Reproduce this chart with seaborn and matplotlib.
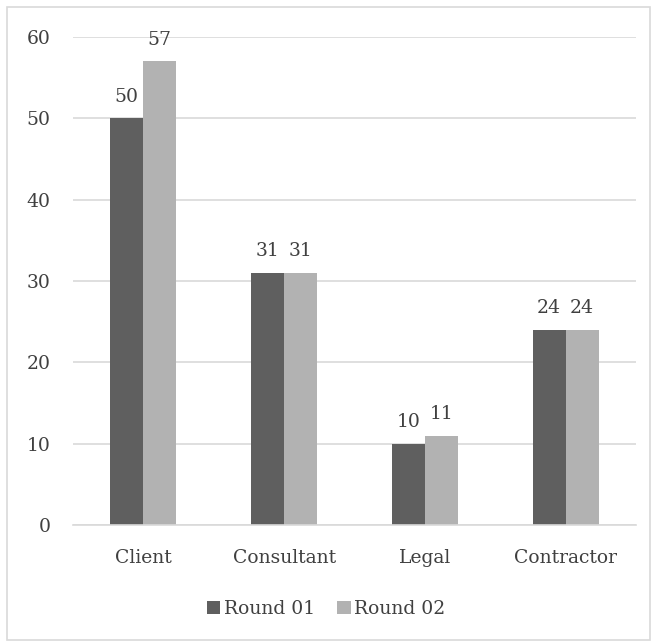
import pandas as pd
import matplotlib
matplotlib.use("Agg")
import matplotlib.pyplot as plt
import seaborn as sns
from matplotlib.patches import Rectangle

# Data
categories = ["Client", "Consultant", "Legal", "Contractor"]
round_01 = [50, 31, 10, 24]
round_02 = [57, 31, 11, 24]
series_names = ["Round 01", "Round 02"]
colors = ["#5f5f5f", "#b2b2b2"]

df = pd.DataFrame({
    "Category": categories * 2,
    "Value": round_01 + round_02,
    "Series": [series_names[0]] * 4 + [series_names[1]] * 4,
})

sns.set_style("white")
plt.rcParams["font.family"] = ["DejaVu Serif"]

fig = plt.figure(figsize=(6.57, 6.43), dpi=100)
ax = fig.add_axes([0.111, 0.1835, 0.857, 0.759])

sns.barplot(data=df, x="Category", y="Value", hue="Series", palette=colors,
            width=0.47, saturation=1, linewidth=0, ax=ax, legend=True)

ax.set_ylim(0, 60)
ax.set_xlim(-0.5, 3.5)
ax.set_yticks(range(0, 61, 10))
ax.yaxis.grid(True, color="#d9d9d9", linewidth=1.2)
ax.set_axisbelow(True)
for s in ["top", "right", "left"]:
    ax.spines[s].set_visible(False)
ax.spines["bottom"].set_color("#d9d9d9")
ax.spines["bottom"].set_linewidth(1.2)
ax.set_xlabel("")
ax.set_ylabel("")
ax.tick_params(axis="both", length=0, labelsize=13.5, colors="#404040")
ax.tick_params(axis="x", pad=17)
ax.tick_params(axis="y", pad=16)

for c in ax.containers:
    ax.bar_label(c, fmt="%d", padding=9, fontsize=13.5, color="#404040")

ax.legend(loc="upper center", bbox_to_anchor=(0.45, -0.12), ncol=2,
          frameon=False, fontsize=13.5, handlelength=0.7, handleheight=0.7,
          handletextpad=0.2, columnspacing=1.2, labelcolor="#404040")

fig.patches.append(Rectangle((0.011, 0.004), 0.978, 0.985, transform=fig.transFigure,
                             fill=False, edgecolor="#d9d9d9", linewidth=1.2))

fig.savefig("out.png", dpi=100, facecolor="white")
